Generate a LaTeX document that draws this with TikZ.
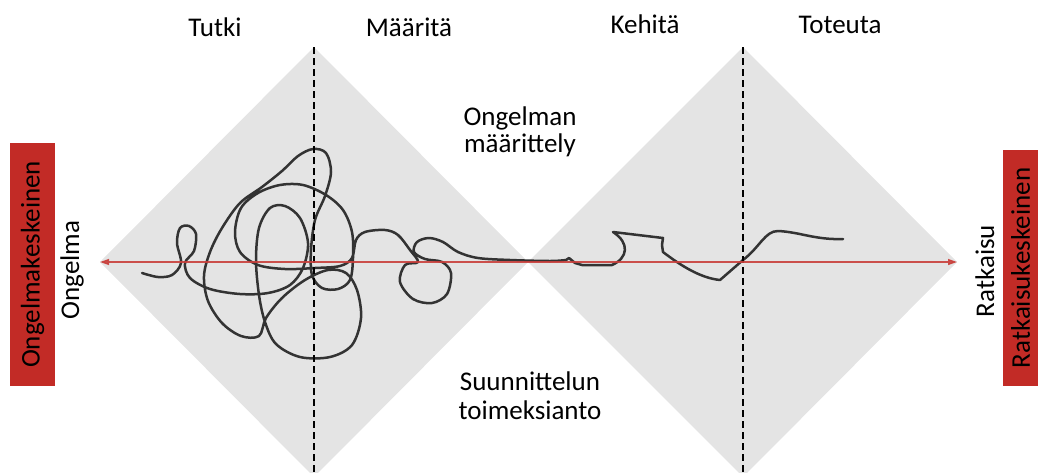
\documentclass[tikz,border=0pt]{standalone}
\usepackage{fontspec}
\setmainfont{Carlito}
\usetikzlibrary{arrows.meta}
\definecolor{phasegray}{HTML}{E4E4E4}
\definecolor{focusred}{HTML}{C22B26}
\definecolor{axisred}{HTML}{C93F3B}
\definecolor{scribble}{HTML}{333333}

\begin{document}
\begin{tikzpicture}[x=1pt, y=-1pt,
  phasetext/.style={font=\fontsize{27}{27}\selectfont, inner sep=0pt, anchor=base, align=center},
  sidebox/.style={fill=focusred, rotate=90, inner sep=0pt, font=\fontsize{27}{27}\selectfont},
  divider/.style={line width=1.2pt, dash pattern=on 7pt off 4pt},
  axisarr/.style={{Triangle[length=9pt,width=6pt]}-{Triangle[length=9pt,width=6pt]}, axisred, line width=1.3pt},
  scrib/.style={scribble, line width=2.5pt, line join=round, line cap=round}
]
  \useasboundingbox (0,0) rectangle (1038,472);
  \clip (0,0) rectangle (1038,472);

  % Diamond vertices
  \coordinate (ong) at (100,262);
  \coordinate (mid) at (528,262);
  \coordinate (rat) at (957,262);
  \coordinate (top1) at (314,47);
  \coordinate (bot1) at (314,477);
  \coordinate (top2) at (743,47);
  \coordinate (bot2) at (743,477);

  % Double diamond
  \fill[phasegray] (ong) -- (top1) -- (mid) -- (bot1) -- cycle;
  \fill[phasegray] (mid) -- (top2) -- (rat) -- (bot2) -- cycle;

  % Phase labels
  \node[phasetext] (tutki) at (215,36) {Tutki};
  \node[phasetext] (maarita) at (409,36) {Määritä};
  \node[phasetext] (kehita) at (645,33) {Kehitä};
  \node[phasetext] (toteuta) at (840,33) {Toteuta};

  \node[phasetext] (maarittely) at (520,152) {Ongelman\\määrittely};
  \node[phasetext] (toimeksianto) at (530,419) {Suunnittelun\\[2pt]toimeksianto};

  % Side labels
  \node[phasetext, rotate=90] (ongelma) at (79,270) {Ongelma};
  \node[phasetext, rotate=90] (ratkaisu) at (994,271) {Ratkaisu};

  \node[sidebox, minimum width=243pt, minimum height=45pt] (ongbox) at (32.5,264.5) {Ongelmakeskeinen};
  \node[sidebox, minimum width=236pt, minimum height=35pt] (ratbox) at (1020.5,268) {Ratkaisukeskeinen};

  % Design process scribble
  \draw[scrib] plot[smooth, tension=0.55] coordinates {
    (142,273) (158,277) (172,275) (181,263) (177,243) (180,228) (189,226) (196,234)
    (194,251) (185,263) (190,278) (210,289) (240,294) (268,293) (290,285) (303,268)
    (308,243) (300,218) (285,206) (270,208) (259,228) (256,260) (259,295) (265,322)
    (276,344) (300,357) (330,357) (352,345) (361,318) (357,290) (346,273) (328,270)
    (305,280) (282,298) (266,318) (259,336) (241,336) (222,323) (208,301) (204,276)
    (210,252) (222,228) (240,203) (262,187) (282,171) (298,156) (313,149) (326,153)
    (331,172) (325,196) (315,220) (311,250) (312,275) (322,288) (338,289) (350,280)
    (353,258) (352,232) (343,210) (326,195) (303,185) (280,185) (258,193) (241,208)
    (235,232) (240,252) (258,265) (285,269) (315,268) (340,266) (352,258) (356,240)
    (365,232) (385,230) (398,235) (410,250) (418,262) (405,265) (400,282) (413,299)
    (432,303) (447,294) (451,273) (442,262) (425,259) (414,252) (417,242) (429,238)
    (443,242) (458,252) (478,258) (510,260) (550,261) (566,260)}
    -- (569,258) -- (575,263) -- (582,265) -- (612,265)
    .. controls (628,258) and (630,243) .. (613,232) -- (663,238) -- (662,245) -- (663,252)
    .. controls (680,265) and (700,278) .. (720,280) -- (743,260)
    .. controls (760,247) and (765,231) .. (778,231)
    .. controls (800,232) and (815,240) .. (843,239);

  % Dividers and axis
  \draw[divider] (top1) -- (bot1);
  \draw[divider] (top2) -- (bot2);
  \draw[axisarr, opacity=0.9] (ong) -- (rat);

\end{tikzpicture}
\end{document}
